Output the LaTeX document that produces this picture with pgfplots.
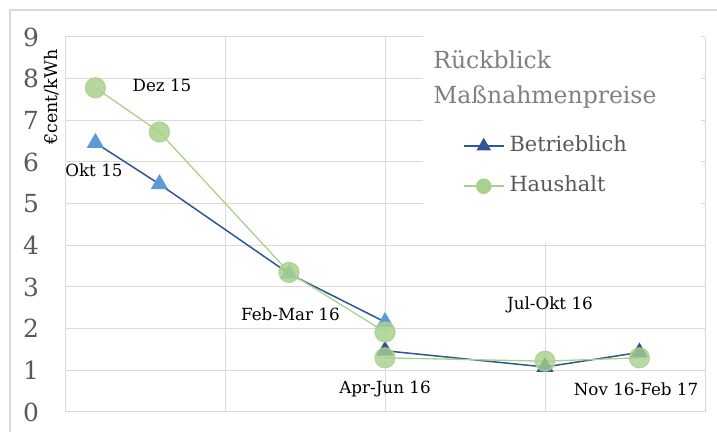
\documentclass[border=0pt]{standalone}
\usepackage{pgfplots}
\pgfplotsset{compat=1.18}
\usepackage{fontspec}
\setmainfont{DejaVu Serif}
\definecolor{gridc}{HTML}{D9D9D9}
\definecolor{bdark}{HTML}{2F5597}
\definecolor{blight}{HTML}{5B9BD5}
\definecolor{hgreen}{HTML}{A9D18E}
\definecolor{tickc}{HTML}{595959}
\definecolor{titlec}{HTML}{808080}
\begin{document}
\begin{tikzpicture}
\useasboundingbox (0,0) rectangle (717bp,432bp);
\draw[gridc, line width=1.2bp] (10bp,-5bp) -- (10bp,422bp) -- (725bp,422bp);
\begin{axis}[
  at={(65bp,20bp)}, anchor=south west, scale only axis,
  width=640bp, height=375bp,
  xmin=0, xmax=4, ymin=0, ymax=9,
  xtick={0,1,2,3,4}, xticklabel=\empty,
  ytick={0,1,2,3,4,5,6,7,8,9},
  grid=major, major grid style={gridc, line width=1bp},
  axis line style={draw=none}, major tick length=0pt,
  /pgf/number format/assume math mode=true,
  yticklabel style={anchor=center, xshift=-34bp, font=\fontsize{25}{30}\selectfont, text=tickc},
  clip=false,
  ylabel={€cent/kWh},
  every axis y label/.style={at={(rel axis cs:-0.011,0.84)}, anchor=base, rotate=90, font=\fontsize{17.5}{20}\selectfont},
  legend image code/.code={\draw[mark repeat=2,mark phase=2] plot coordinates {(0bp,0bp)(20bp,0bp)(40bp,0bp)};},
  legend cell align=left,
  legend style={at={(axis cs:2.4875,6.63)}, anchor=north west, draw=none, fill=none,
    font=\fontsize{21}{25}\selectfont, text=tickc, inner sep=0pt, outer sep=0pt,
    row sep=19bp, nodes={inner sep=0pt, text height=16bp, text depth=5bp},
    /tikz/every odd column/.append style={column sep=5bp}},
]
\fill[white] (axis cs:2.24,4.06) rectangle (axis cs:3.975,9.06);

\addplot[bdark, line width=1.5bp, mark=triangle*, mark size=8.5bp,
  mark options={fill=blight, draw=blight}, forget plot]
  coordinates {(0.19,6.46) (0.59,5.47) (1.40,3.32) (2.0,2.16)};
\addplot[bdark, line width=1.5bp, mark=triangle*, mark size=8.5bp,
  mark options={fill=bdark, draw=bdark}, forget plot]
  coordinates {(2.0,1.47) (3.0,1.08) (3.59,1.43)};
\addplot[hgreen, line width=1.3bp, mark=*, mark size=10bp,
  mark options={fill=hgreen, draw=hgreen, opacity=0.85}, forget plot]
  coordinates {(0.19,7.78) (0.59,6.72) (1.40,3.35) (2.0,1.92)};
\addplot[hgreen, line width=1.3bp, mark=*, mark size=10bp,
  mark options={fill=hgreen, draw=hgreen, opacity=0.8}, forget plot]
  coordinates {(2.0,1.30) (3.0,1.22) (3.59,1.30)};

\addlegendimage{bdark, line width=1.5bp, mark=triangle*, mark size=7bp, mark options={fill=bdark, draw=bdark}}
\addlegendentry{Betrieblich}
\addlegendimage{hgreen, line width=1.5bp, mark=*, mark size=7bp, mark options={fill=hgreen, draw=hgreen}}
\addlegendentry{Haushalt}

\node[anchor=base west, text=titlec, font=\fontsize{23.6}{28}\selectfont] at (axis cs:2.28,8.232) {Rückblick};
\node[anchor=base west, text=titlec, font=\fontsize{23.6}{28}\selectfont] at (axis cs:2.28,7.392) {Maßnahmenpreise};

\node[anchor=base, font=\fontsize{16.8}{20}\selectfont] at (axis cs:0.181,5.64) {Okt 15};
\node[anchor=base, font=\fontsize{16.8}{20}\selectfont] at (axis cs:0.606,7.68) {Dez 15};
\node[anchor=base, font=\fontsize{16.8}{20}\selectfont] at (axis cs:1.409,2.184) {Feb-Mar 16};
\node[anchor=base, font=\fontsize{16.8}{20}\selectfont] at (axis cs:2.0,0.432) {Apr-Jun 16};
\node[anchor=base, font=\fontsize{16.8}{20}\selectfont] at (axis cs:3.031,2.448) {Jul-Okt 16};
\node[anchor=base, font=\fontsize{16.8}{20}\selectfont] at (axis cs:3.569,0.384) {Nov 16-Feb 17};
\end{axis}
\end{tikzpicture}
\end{document}
